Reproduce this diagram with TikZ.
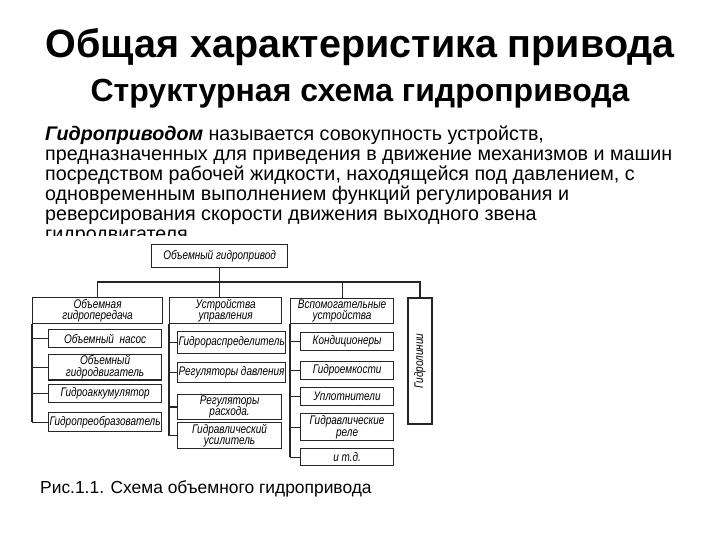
\documentclass[tikz,border=0pt]{standalone}
\usepackage{fontspec}
\setmainfont{Liberation Sans}
\newfontfamily\schemefont{Liberation Sans}[FakeStretch=0.8]
\usetikzlibrary{positioning}
\lineskiplimit=-6pt

\tikzset{
  blk/.style={draw=black!85, line width=1.2pt, fill=white, inner sep=1pt,
    anchor=north west, align=center,
    font=\schemefont\itshape\fontsize{12.5}{11.5}\selectfont},
  wire/.style={draw=black!85, line width=1.2pt},
}

\begin{document}
\begin{tikzpicture}[x=1pt,y=-1pt]
    \useasboundingbox (0,0) rectangle (720,540);
    % headings
    \node[font=\fontsize{39.5}{40}\selectfont\bfseries] (title) at (360,47) {Общая характеристика привода};
    \node[font=\fontsize{32}{32}\selectfont\bfseries] (subtitle) at (360,94) {Структурная схема гидропривода};
    \node[anchor=north west, align=left, inner sep=0pt, font=\fontsize{19.7}{20}\selectfont] (definition) at (45,126)
      {\textbf{\textit{Гидроприводом}} называется совокупность устройств,\\
       предназначенных для приведения в движение механизмов и машин\\
       посредством рабочей жидкости, находящейся под давлением, с\\
       одновременным выполнением функций регулирования и\\
       реверсирования скорости движения выходного звена\\
       гидродвигателя};
    % picture sheet
    \fill[white] (35,236) rectangle (445,475);
    % blocks
    \node[blk, minimum width=136pt, minimum height=23pt] (root) at (151,244) {Объемный гидропривод};
    \node[blk, minimum width=130pt, minimum height=26pt] (transm) at (32,297) {Объемная\\гидропередача};
    \node[blk, minimum width=112pt, minimum height=26pt] (control) at (169,297) {Устройства\\управления};
    \node[blk, minimum width=103pt, minimum height=25pt] (aux) at (290,298) {Вспомогательные\\устройства};
    \node[blk, minimum width=126pt, minimum height=24pt, anchor=center, rotate=90] (lines) at (420,361) {Гидролинии};
    % transmission
    \node[blk, minimum width=113pt, minimum height=18pt] (pump) at (48,329) {Объемный\ \ насос};
    \node[blk, minimum width=113pt, minimum height=23pt] (motor) at (48,354) {Объемный\\гидродвигатель};
    \node[blk, minimum width=113pt, minimum height=18pt] (accum) at (48,384) {Гидроаккумулятор};
    \node[blk, minimum width=113pt, minimum height=19pt] (conv) at (48,412) {Гидропреобразователь};
    % control
    \node[blk, minimum width=104pt, minimum height=22pt] (distr) at (177,331) {Гидрораспределитель};
    \node[blk, minimum width=104pt, minimum height=20pt] (preg) at (177,362) {Регуляторы давления};
    \node[blk, minimum width=104pt, minimum height=22pt] (freg) at (177,394) {Регуляторы\\расхода.};
    \node[blk, minimum width=104pt, minimum height=26pt] (amp) at (177,422) {Гидравлический\\усилитель};
    % auxiliary
    \node[blk, minimum width=93pt, minimum height=18pt] (cond) at (300,332) {Кондиционеры};
    \node[blk, minimum width=93pt, minimum height=18pt] (tank) at (300,361) {Гидроемкости};
    \node[blk, minimum width=93pt, minimum height=18pt] (seal) at (300,387) {Уплотнители};
    \node[blk, minimum width=93pt, minimum height=27pt] (relay) at (300,413) {Гидравлические\\реле};
    \node[blk, minimum width=93pt, minimum height=17pt] (etc) at (300,448) {и т.д.};
    % bus
    \coordinate (bus) at (219,282);
    \draw[wire] (root.south) -- (root.south |- control.north);
    \draw[wire] (transm.north) -- (transm.north |- bus) -- (lines.east |- bus) -- (lines.east);
    \draw[wire] (aux.north) -- (aux.north |- bus);
    % branches
    \draw[wire] (transm.south west) -- (transm.south west |- conv.west);
    \foreach \n in {pump,motor,accum,conv}
      \draw[wire] (transm.south west |- \n.west) -- (\n.west);
    \draw[wire] (control.south west) -- (control.south west |- amp.west);
    \foreach \n in {distr,preg,freg,amp}
      \draw[wire] (control.south west |- \n.west) -- (\n.west);
    \draw[wire] (aux.south west) -- (aux.south west |- etc.west);
    \foreach \n in {cond,tank,seal,relay,etc}
      \draw[wire] (aux.south west |- \n.west) -- (\n.west);
    % caption
    \node[anchor=west, inner sep=0pt, font=\fontsize{17.4}{18}\selectfont] (caption) at (40,489) {Рис.1.1. Схема объемного гидропривода};
\end{tikzpicture}
\end{document}
